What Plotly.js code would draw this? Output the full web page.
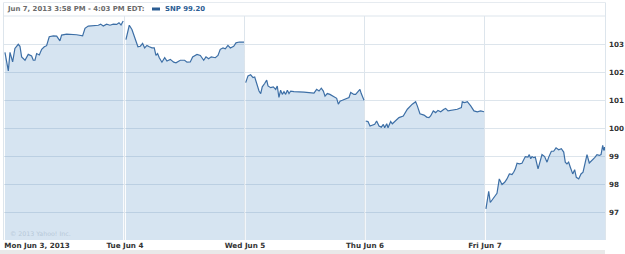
<!DOCTYPE html>
<html>
<head>
<meta charset="utf-8">
<script src="https://cdn.plot.ly/plotly-3.0.1.min.js"></script>
<style>html,body{margin:0;padding:0;background:#fff;}#chart{width:625px;height:254px;}</style>
</head>
<body>
<div id="chart"></div>
<script>
// Trading session position (day index + fraction of session) and SNP prices, one pair per day
const monX = [0,0.028,0.042,0.064,0.083,0.111,0.125,0.139,0.167,0.194,0.222,0.236,0.25,0.264,0.286,0.306,0.328,0.347,0.369,0.403,0.431,0.458,0.472,0.514,0.597,0.647,0.667,0.694,0.778,0.797,0.819,0.847,0.875,0.903,0.931,0.95,0.967,0.985];
const monY = [102.70,102.04,102.70,102.36,102.84,102.99,102.92,102.54,102.42,102.63,102.57,102.42,102.42,102.66,102.61,102.81,102.90,102.94,103.26,103.29,103.28,103.11,103.32,103.35,103.33,103.29,103.56,103.64,103.67,103.71,103.64,103.71,103.67,103.71,103.70,103.76,103.68,103.82];

const tueX = [1.008,1.036,1.058,1.081,1.108,1.128,1.147,1.164,1.183,1.203,1.225,1.244,1.258,1.272,1.286,1.308,1.331,1.35,1.378,1.406,1.425,1.461,1.497,1.517,1.544,1.564,1.6,1.628,1.656,1.675,1.697,1.719,1.753,1.775,1.794,1.817,1.836,1.858,1.878,1.906,1.925,1.953,1.975,1.992];
const tueY = [103.16,103.67,103.52,103.26,102.90,102.92,103.02,102.86,102.95,102.90,102.86,102.86,102.59,102.66,102.51,102.35,102.51,102.39,102.45,102.35,102.33,102.42,102.42,102.35,102.36,102.54,102.63,102.59,102.42,102.54,102.47,102.54,102.51,102.59,102.81,102.86,102.83,102.95,102.86,102.92,103.04,103.07,103.08,103.07];

const wedX = [2.006,2.025,2.047,2.067,2.081,2.097,2.117,2.131,2.144,2.164,2.181,2.192,2.214,2.236,2.256,2.269,2.283,2.297,2.311,2.325,2.339,2.353,2.367,2.381,2.408,2.492,2.575,2.597,2.617,2.636,2.653,2.667,2.686,2.708,2.728,2.747,2.764,2.778,2.792,2.811,2.839,2.867,2.881,2.908,2.922,2.942,2.958,2.969,2.992];
const wedY = [101.62,101.86,101.90,101.80,101.82,101.56,101.32,101.23,101.47,101.59,101.71,101.50,101.44,101.47,101.38,101.50,101.09,101.35,101.20,101.30,101.20,101.35,101.23,101.32,101.30,101.28,101.25,101.38,101.32,101.42,101.32,101.14,101.23,101.20,101.14,101.09,101.06,100.85,100.96,100.99,101.03,101.09,101.27,101.20,101.20,101.30,101.38,101.23,100.99];

const thuX = [3.006,3.025,3.042,3.061,3.081,3.097,3.117,3.136,3.153,3.164,3.181,3.192,3.214,3.228,3.256,3.283,3.319,3.353,3.394,3.422,3.436,3.458,3.492,3.514,3.533,3.547,3.569,3.589,3.608,3.631,3.658,3.672,3.692,3.719,3.769,3.803,3.811,3.831,3.853,3.881,3.908,3.936,3.964,3.992];
const thuY = [100.25,100.23,100.07,100.09,100.13,100.25,100.07,100.03,100.13,100.01,100.15,100.01,100.23,100.15,100.27,100.37,100.43,100.67,100.85,100.94,100.79,100.51,100.46,100.39,100.37,100.43,100.61,100.55,100.63,100.58,100.67,100.70,100.61,100.63,100.67,100.73,100.94,100.91,100.94,100.79,100.61,100.58,100.61,100.58];

const friX = [4.008,4.031,4.044,4.064,4.086,4.1,4.119,4.142,4.164,4.183,4.203,4.225,4.239,4.253,4.267,4.286,4.308,4.322,4.336,4.358,4.369,4.381,4.392,4.406,4.419,4.442,4.461,4.475,4.497,4.517,4.531,4.553,4.572,4.592,4.614,4.636,4.656,4.669,4.683,4.697,4.711,4.731,4.747,4.761,4.781,4.8,4.817,4.836,4.85,4.869,4.892,4.914,4.933,4.953,4.967,4.981,4.989,4.997,5.0];
const friY = [97.11,97.74,97.34,97.47,97.58,97.67,98.18,97.98,98.06,98.18,98.36,98.34,98.42,98.54,98.74,98.72,98.74,98.84,98.98,98.96,99.05,98.90,98.98,98.94,98.96,98.54,98.90,99.05,98.98,98.78,98.96,99.17,99.17,99.29,99.22,99.26,99.14,98.78,98.72,98.78,98.60,98.36,98.51,98.24,98.18,98.36,98.42,98.78,99.05,98.75,98.84,98.94,99.05,99.02,99.05,99.38,99.20,99.32,99.20];

const xTickVals = [0.267, 1, 2, 3, 4];
const xTickText = ['Mon Jun 3, 2013', 'Tue Jun 4', 'Wed Jun 5', 'Thu Jun 6', 'Fri Jun 7'];
const dayBounds = [1, 2, 3, 4];
const yTickVals = [97, 98, 99, 100, 101, 102, 103];
const headerText = 'Jun 7, 2013 3:58 PM - 4:03 PM EDT:';
const seriesLabel = 'SNP 99.20';

const lineColor = '#3d6fa6';
const fillColor = 'rgba(70,130,190,0.22)';
const gridColor = '#dde5ec';
const fontFam = '"DejaVu Sans", Verdana, sans-serif';

const days = [[monX, monY], [tueX, tueY], [wedX, wedY], [thuX, thuY], [friX, friY]];
const traces = days.map(d => ({
  x: d[0], y: d[1], type: 'scatter', mode: 'lines',
  line: {color: lineColor, width: 1.2},
  fill: 'tozeroy', fillcolor: fillColor,
  showlegend: false, hoverinfo: 'skip'
}));

const W = 625, H = 254, L = 4, R = 20, T = 16, B = 14;
const pw = W - L - R, ph = H - T - B;
const px = v => (v - L) / pw;          // pixel -> paper x
const py = v => (H - B - v) / ph;      // pixel -> paper y

const layout = {
  width: W, height: H,
  margin: {l: L, r: R, t: T, b: B, pad: 0},
  paper_bgcolor: '#ffffff', plot_bgcolor: '#ffffff',
  showlegend: false,
  xaxis: {
    range: [-0.008, 5.0], fixedrange: true,
    tickmode: 'array', tickvals: xTickVals, ticktext: xTickText,
    showgrid: false, zeroline: false, showline: false, ticks: '',
    tickfont: {family: fontFam, size: 7.2, color: '#333333', weight: 'bold'},
    minor: {tickmode: 'array', tickvals: dayBounds, showgrid: true, gridcolor: gridColor, gridwidth: 1, ticks: ''}
  },
  yaxis: {
    range: [96, 104], side: 'right', fixedrange: true,
    tickmode: 'array', tickvals: yTickVals, ticktext: yTickVals.map(String),
    showgrid: true, gridcolor: gridColor, gridwidth: 1,
    zeroline: false, showline: false, ticks: '', ticklabelstandoff: 3,
    tickfont: {family: fontFam, size: 7.2, color: '#333333', weight: 'bold'}
  },
  shapes: [
    {type: 'line', xref: 'paper', yref: 'paper', x0: px(3.5), x1: px(3.5), y0: py(2.5), y1: py(240), line: {color: gridColor, width: 1}, layer: 'above'},
    {type: 'line', xref: 'paper', yref: 'paper', x0: px(605.5), x1: px(605.5), y0: py(2.5), y1: py(240), line: {color: gridColor, width: 1}, layer: 'above'},
    {type: 'line', xref: 'paper', yref: 'paper', x0: px(3.5), x1: px(605.5), y0: py(2.5), y1: py(2.5), line: {color: '#e6ebf0', width: 1}, layer: 'above'},
    {type: 'line', xref: 'paper', yref: 'paper', x0: px(3.5), x1: px(605.5), y0: py(16), y1: py(16), line: {color: gridColor, width: 1}, layer: 'above'},
    {type: 'rect', xref: 'paper', yref: 'paper', x0: px(152), x1: px(160), y0: py(10.5), y1: py(7.5), fillcolor: '#2b5d93', line: {width: 0}},
    {type: 'rect', xref: 'paper', yref: 'paper', x0: px(0), x1: px(605), y0: py(254), y1: py(250), fillcolor: '#e9e9e9', line: {width: 0}, layer: 'below'}
  ],
  annotations: [
    {xref: 'paper', yref: 'paper', x: px(5), y: py(9), xanchor: 'left', yanchor: 'middle', showarrow: false,
     text: headerText, font: {family: fontFam, size: 6.9, color: '#6b6b6b', weight: 'bold'}},
    {xref: 'paper', yref: 'paper', x: px(163), y: py(9), xanchor: 'left', yanchor: 'middle', showarrow: false,
     text: seriesLabel, font: {family: fontFam, size: 6.9, color: '#2b5d93', weight: 'bold'}},
    {xref: 'paper', yref: 'paper', x: px(8), y: py(233), xanchor: 'left', yanchor: 'middle', showarrow: false,
     text: '© 2013 Yahoo! Inc.', font: {family: fontFam, size: 6.3, color: '#b7c8d8'}}
  ]
};

Plotly.newPlot('chart', traces, layout, {staticPlot: true, displayModeBar: false});
</script>
</body>
</html>
